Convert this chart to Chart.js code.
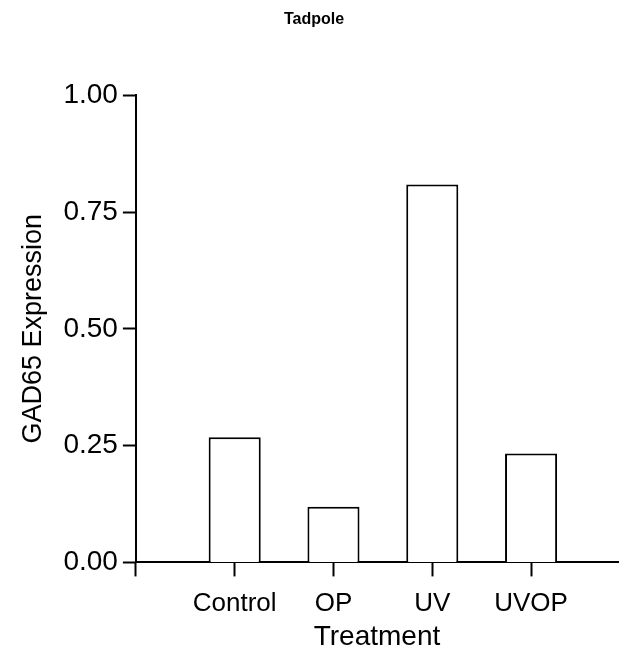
<!DOCTYPE html>
<html lang="en">
<head>
    <meta charset="UTF-8">
    <title>Tadpole</title>
    <style>
        * {
            margin: 0;
            padding: 0;
            box-sizing: border-box;
        }

        body {
            background-color: #fff;
        }

        .chart-box {
            width: 624px;
            height: 654px;
        }
    </style>
    <script src="https://cdn.jsdelivr.net/npm/chart.js"></script>
</head>
<body>
    <div class="chart-box">
        <canvas id="gadChart"></canvas>
    </div>

    <script>
        // GAD65 expression per treatment group
        const categories = ['Control', 'OP', 'UV', 'UVOP'];
        const expression = [0.268, 0.119, 0.809, 0.233];
        const yTicks = [0, 0.25, 0.5, 0.75, 1];

        // bars sit at 1..4 on a linear axis, leaving an empty slot next to the y axis
        const points = categories.map((c, i) => ({ x: i + 1, y: expression[i] }));

        Chart.defaults.font.family = '"Liberation Sans", Arial, sans-serif';
        Chart.defaults.color = '#000';

        new Chart(document.getElementById('gadChart'), {
            type: 'bar',
            data: {
                datasets: [{
                    data: points,
                    backgroundColor: '#fff',
                    borderColor: '#000',
                    borderWidth: 2,
                    barPercentage: 0.527,
                    categoryPercentage: 1
                }]
            },
            options: {
                responsive: true,
                maintainAspectRatio: false,
                animation: false,
                layout: {
                    padding: { left: 10, right: 6, top: 0, bottom: 0 }
                },
                plugins: {
                    legend: { display: false },
                    tooltip: { enabled: false },
                    title: {
                        display: true,
                        text: 'Tadpole',
                        color: '#000',
                        font: { size: 16, weight: 'bold' },
                        padding: { top: 10, bottom: 66 }
                    }
                },
                scales: {
                    x: {
                        type: 'linear',
                        min: 0,
                        max: 4.88,
                        offset: false,
                        afterBuildTicks: (scale) => {
                            scale.ticks = [0, 1, 2, 3, 4].map(v => ({ value: v }));
                        },
                        ticks: {
                            autoSkip: false,
                            maxRotation: 0,
                            padding: 13,
                            font: { size: 26, lineHeight: 1.1 },
                            callback: (v) => v === 0 ? '' : categories[v - 1]
                        },
                        grid: {
                            offset: false,
                            drawOnChartArea: false,
                            drawTicks: true,
                            tickLength: 14,
                            tickWidth: 2,
                            color: '#000'
                        },
                        border: { color: '#000', width: 2 },
                        title: {
                            display: true,
                            text: 'Treatment',
                            // short line box keeps the axis block compact
                            font: { size: 28, lineHeight: '12px' },
                            padding: { top: 0, bottom: 11 }
                        }
                    },
                    y: {
                        min: 0,
                        max: 1,
                        afterBuildTicks: (scale) => {
                            scale.ticks = yTicks.map(v => ({ value: v }));
                        },
                        ticks: {
                            padding: 5,
                            font: { size: 28 },
                            callback: (v) => v.toFixed(2)
                        },
                        grid: {
                            drawOnChartArea: false,
                            drawTicks: true,
                            tickLength: 13,
                            tickWidth: 2,
                            color: '#000'
                        },
                        border: { color: '#000', width: 2 },
                        title: {
                            display: true,
                            text: 'GAD65 Expression',
                            font: { size: 27 },
                            padding: { top: 7, bottom: 9 }
                        }
                    }
                }
            }
        });
    </script>
</body>
</html>
